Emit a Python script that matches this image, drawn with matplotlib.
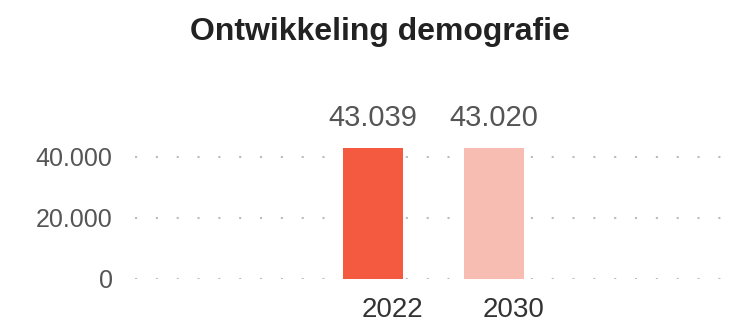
import matplotlib.pyplot as plt

# -------------------------------
# Data
# -------------------------------

years = ["2022", "2030"]
inwoners = [43039, 43020]
labels = ["43.039", "43.020"]
yticks = [0, 20000, 40000]
ytick_labels = ["0", "20.000", "40.000"]

colors = ["#F45A3F", "#F7BDB3"]

plt.rcParams["font.family"] = ["Liberation Sans", "DejaVu Sans"]

fig = plt.figure(figsize=(7.41, 3.24), dpi=100)
ax = fig.add_axes([0.182, 0.139, 0.796, 0.537])

x = list(range(len(years)))
bars = ax.bar(x, inwoners, width=0.5, color=colors, zorder=3)

for b, lab in zip(bars, labels):
    ax.annotate(lab, (b.get_x() + b.get_width() / 2, b.get_height()),
                xytext=(0, 11), textcoords="offset points",
                ha="center", va="bottom", fontsize=21, color="#555555")

# year labels sit a bit right of the bars in the original
for xi, yr in zip(x, years):
    ax.annotate(yr, (xi, 0), xycoords=("data", "axes fraction"),
                xytext=(14, -13), textcoords="offset points",
                ha="center", va="top", fontsize=20, color="#333333")

ax.set_xlim(-1.967, 2.909)
ax.set_ylim(0, 57000)

ax.set_yticks(yticks)
ax.set_yticklabels(ytick_labels, fontsize=18, color="#555555")
ax.set_xticks([])

ax.tick_params(axis="y", length=0, pad=16)

ax.grid(axis="y", color="#BBBBBB", linestyle=(0, (1, 9)), linewidth=1.5, zorder=0)
for s in ax.spines.values():
    s.set_visible(False)

fig.text(0.513, 0.9, "Ontwikkeling demografie", ha="center", va="center",
         fontsize=23, fontweight="bold", color="#222222")

plt.savefig("out.png", dpi=100)
